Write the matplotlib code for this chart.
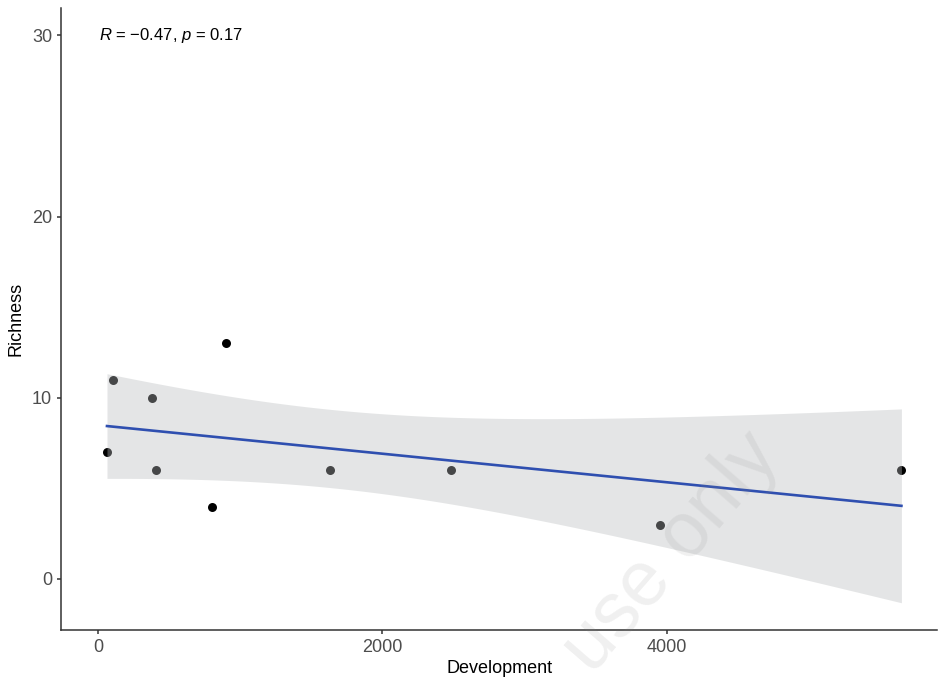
import numpy as np
import matplotlib
matplotlib.use("Agg")
import matplotlib.pyplot as plt

plt.rcParams['font.family'] = ['Liberation Sans', 'DejaVu Sans']
plt.rcParams['mathtext.fontset'] = 'custom'
plt.rcParams['mathtext.rm'] = 'Liberation Sans'
plt.rcParams['mathtext.it'] = 'Liberation Sans:italic'

# Sites: development vs. species richness
development = np.array([63, 105, 379, 407, 800, 898, 1628, 2484, 3951, 5649])
richness = np.array([7, 11, 10, 6, 4, 13, 6, 6, 3, 6])

x_ticks = [0, 2000, 4000]
y_ticks = [0, 10, 20, 30]
cor_label = r'$R$ = −0.47, $p$ = 0.17'

# Linear fit with 95% confidence band
n = len(development)
xm, ym = development.mean(), richness.mean()
sxx = np.sum((development - xm) ** 2)
slope = np.sum((development - xm) * (richness - ym)) / sxx
intercept = ym - slope * xm
resid = richness - (intercept + slope * development)
s = np.sqrt(np.sum(resid ** 2) / (n - 2))
t_crit = 2.306  # t(0.975, df=8)
xs = np.linspace(development.min(), development.max(), 200)
fit = intercept + slope * xs
se = s * np.sqrt(1 / n + (xs - xm) ** 2 / sxx)

fig = plt.figure(figsize=(9.39, 6.83), dpi=100)
ax = fig.add_axes([0.065, 0.078, 0.933, 0.91])

ax.scatter(development, richness, s=42, color='black', zorder=2, linewidths=0)
ax.fill_between(xs, fit - t_crit * se, fit + t_crit * se,
                color='#b9bcbe', alpha=0.38, linewidth=0, zorder=3)
ax.plot(xs, fit, color='#2f4fb0', linewidth=1.9, zorder=4)

ax.text(10, 30, cor_label, fontsize=12, va='center', ha='left', color='black')

ax.set_xlim(-260, 5900)
ax.set_ylim(-2.8, 31.5)
ax.set_xticks(x_ticks)
ax.set_yticks(y_ticks)
ax.set_xlabel('Development', fontsize=13, labelpad=3)
ax.set_ylabel('Richness', fontsize=13, labelpad=5)
ax.tick_params(labelsize=13, labelcolor='#4d4d4d', color='#333333',
               length=3, width=1.1)
for side in ['top', 'right']:
    ax.spines[side].set_visible(False)
for side in ['left', 'bottom']:
    ax.spines[side].set_color('#333333')
    ax.spines[side].set_linewidth(1.1)

# faint watermark
fig.text(0.715, 0.19, 'use only', fontsize=56, rotation=49, color='#888888',
         alpha=0.13, ha='center', va='center', zorder=10)

fig.savefig('out.png', dpi=100)
